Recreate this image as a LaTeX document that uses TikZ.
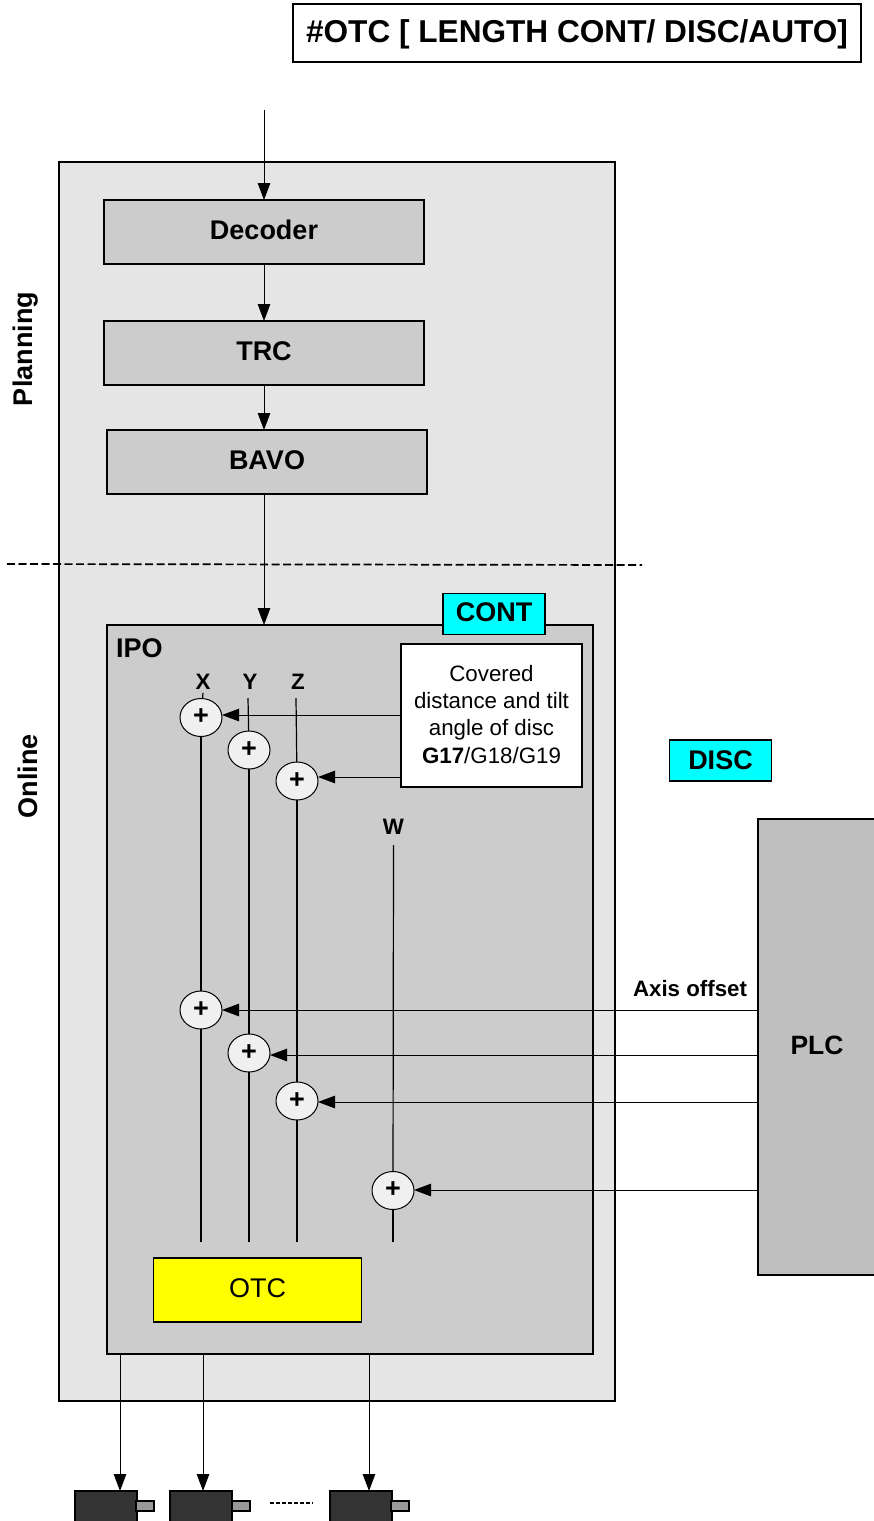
\documentclass[tikz,border=0pt]{standalone}
\usepackage{fontspec}
\setmainfont{Liberation Sans}
\usetikzlibrary{arrows.meta, shapes.geometric}
\definecolor{panel}{gray}{0.90}
\definecolor{block}{gray}{0.80}
\definecolor{plcgray}{gray}{0.75}
\definecolor{motor}{gray}{0.20}
\definecolor{shaft}{gray}{0.60}
\definecolor{sumfill}{gray}{0.94}
\definecolor{modecyan}{RGB}{0,255,255}
\definecolor{otcyellow}{RGB}{255,255,0}
\newcommand{\fs}[1]{\fontsize{#1}{#1}\selectfont}
\tikzset{
  box/.style={draw=black, line width=1.2pt, inner sep=0pt, outer sep=0pt, align=center},
  lifted/.style={text height=19.7pt, text depth=5pt},
  stage/.style={box, lifted, fill=block, minimum width=320, minimum height=64, font=\fs{27}\bfseries},
  mode/.style={box, fill=modecyan, minimum width=102, minimum height=41, font=\fs{27}\bfseries},
  summer/.style={ellipse, draw=black, line width=1pt, fill=sumfill, inner sep=0pt, outer sep=0pt,
    minimum width=42, minimum height=38, text height=14pt, text depth=0pt, font=\fs{27}\bfseries},
  motorbody/.style={box, fill=motor, minimum width=62, minimum height=34},
  motorshaft/.style={box, fill=shaft, minimum width=18, minimum height=10},
  lbl/.style={inner sep=0pt, outer sep=0pt, font=\fs{27}\bfseries},
  axislbl/.style={inner sep=0pt, outer sep=1pt, font=\fs{22.3}\bfseries},
  flow/.style={draw=black, line width=1pt, -{Triangle[length=17,width=12.5]}},
  axisline/.style={draw=black, line width=1.2pt},
}
\begin{document}
\begin{tikzpicture}[x=1pt, y=-1pt]
\useasboundingbox (0,0) rectangle (874,1521);

% panels first, everything else sits on top
\node[box, fill=panel, minimum width=556, minimum height=1239] (panel) at (337,781.5) {};
\node[box, fill=block, minimum width=486, minimum height=729] (ipo) at (350,989.5) {};

\node[box, minimum width=568, minimum height=58, text height=22pt, text depth=3pt,
  font=\fs{31.6}\bfseries] (title) at (577,33) {\#OTC [ LENGTH CONT/ DISC/AUTO]};
\node[lbl, rotate=90] (planning) at (25.5,349) {Planning};
\node[lbl, rotate=90] (online) at (27.5,776) {Online};

\node[stage] (decoder) at (264,232) {Decoder};
\node[stage] (trc) at (264,353) {TRC};
\node[stage] (bavo) at (267,462) {BAVO};

% planning / online border
\coordinate (splitl) at (7,564);
\coordinate (splitr) at (642,565);
\draw[black, line width=1.7pt, dash pattern=on 8pt off 3.5pt] (splitl) -- (splitr);

\coordinate (feed) at (264,110);
\draw[flow] (feed) -- (decoder.north);
\draw[flow] (decoder.south) -- (trc.north);
\draw[flow] (trc.south) -- (trc.south |- bavo.north);
\draw[flow] (decoder.south |- bavo.south) -- (decoder.south |- ipo.north);

\node[mode, lifted] (cont) at (494,614) {CONT};
\node[mode] (disc) at (720.5,760.5) {DISC};
\node[lbl, anchor=west] (ipolbl) at (116,648) {IPO};
\node[box, fill=white, minimum width=181, minimum height=143] (cover) at (491.5,715.5) {};
\node[inner sep=0pt, align=center, font=\fs{22.3}, anchor=north] (covertxt) at (491.5,665)
  {Covered\\[5pt]distance and tilt\\[5pt]angle of disc\\[5pt]\textbf{G17}/G18/G19};

\node[box, lifted, fill=plcgray, minimum width=118, minimum height=456, font=\fs{26.5}\bfseries] (plc)
  at (817,1047) {PLC};
\node[axislbl, anchor=south east] (offset) at (748,998) {Axis offset};

\node[axislbl] (axx) at (203,682) {X};
\node[axislbl] (axy) at (250,682) {Y};
\node[axislbl] (axz) at (298,682) {Z};
\node[axislbl] (axw) at (393.5,827) {W};

% summing points: tilt row, then axis offset row
\node[summer] (sxa) at (201,717.5) {+};
\node[summer] (sya) at (249,750) {+};
\node[summer] (sza) at (297,781) {+};
\node[summer] (sxb) at (201,1010) {+};
\node[summer] (syb) at (249,1053) {+};
\node[summer] (szb) at (297,1101) {+};
\node[summer] (swb) at (393,1190.5) {+};

\node[box, lifted, fill=otcyellow, minimum width=208, minimum height=64, font=\fs{27}] (otc) at (257.5,1290) {OTC};

\coordinate (topx) at (203,693);
\coordinate (topy) at (248,698);
\coordinate (topz) at (296,698);
\coordinate (topw) at (393.5,845);
\coordinate (endx) at (201,1242);
\coordinate (endy) at (249,1242);
\coordinate (endz) at (297,1242);
\coordinate (endw) at (393,1242);

\draw[axisline] (topx) -- (sxa);
\draw[axisline] (topy) -- (sya);
\draw[axisline] (topz) -- (sza);
\draw[axisline] (sxa) -- (sxb);
\draw[axisline] (sya) -- (syb);
\draw[axisline] (sza) -- (szb);
\draw[axisline] (topw) -- (swb);
\draw[axisline] (sxb) -- (endx);
\draw[axisline] (syb) -- (endy);
\draw[axisline] (szb) -- (endz);
\draw[axisline] (swb) -- (endw);

% arrows cross the axis lines, so they come after them
\coordinate (tilta) at (401,715);
\coordinate (tiltb) at (401,777);
\coordinate (plca) at (758,1010);
\coordinate (plcb) at (758,1055);
\coordinate (plcc) at (758,1102);
\coordinate (plcd) at (758,1190);
\draw[flow] (tilta) -- (sxa.east |- tilta);
\draw[flow] (tiltb) -- (sza.east |- tiltb);
\draw[flow] (plca) -- (sxb.east |- plca);
\draw[flow] (plcb) -- (syb.east |- plcb);
\draw[flow] (plcc) -- (szb.east |- plcc);
\draw[flow] (plcd) -- (swb.east |- plcd);

% motors run off the bottom edge
\node[motorbody, anchor=north west] (mota) at (75,1491) {};
\node[motorbody, anchor=north west] (motb) at (170,1491) {};
\node[motorbody, anchor=north west] (motc) at (330,1491) {};
\node[motorshaft, anchor=west] (shafta) at (136,1506) {};
\node[motorshaft, anchor=west] (shaftb) at (232,1506) {};
\node[motorshaft, anchor=west] (shaftc) at (391,1506) {};
\coordinate (dota) at (270,1503);
\coordinate (dotb) at (313,1503);
\draw[black, line width=1.2pt, dash pattern=on 4pt off 2pt] (dota) -- (dotb);

\coordinate (outa) at (120,1354);
\coordinate (outb) at (203,1354);
\coordinate (outc) at (369,1354);
\draw[flow] (outa) -- (outa |- mota.north);
\draw[flow] (outb) -- (outb |- motb.north);
\draw[flow] (outc) -- (outc |- motc.north);
\end{tikzpicture}
\end{document}
